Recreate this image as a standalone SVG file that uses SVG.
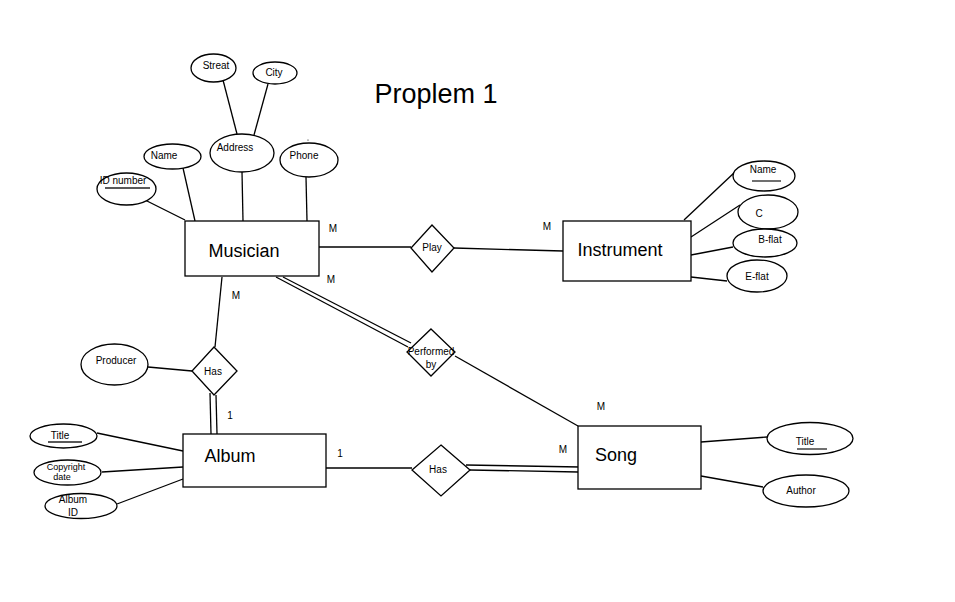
<svg xmlns="http://www.w3.org/2000/svg" width="955" height="602" viewBox="0 0 955 602">
<style>
.s{fill:#fff;stroke:#000;stroke-width:1.3}
.l{stroke:#000;stroke-width:1.3;fill:none}
.u{stroke:#222;stroke-width:1.3}
.t{font-family:"Liberation Sans",Arial,sans-serif;font-size:10px;fill:#000;text-anchor:middle}
.e{font-family:"Liberation Sans",Arial,sans-serif;font-size:18px;fill:#000;text-anchor:middle}
.sm{font-size:9px}
</style>
<rect width="955" height="602" fill="#fff"/>
<text x="436" y="103" font-family="'Liberation Sans',Arial,sans-serif" font-size="27" text-anchor="middle">Proplem 1</text>
<g id="connectors">
<line class="l" x1="223" y1="80" x2="237" y2="134"/>
<line class="l" x1="268" y1="84" x2="254" y2="135"/>
<line class="l" x1="143" y1="199" x2="185" y2="220"/>
<line class="l" x1="183" y1="168" x2="195" y2="221"/>
<line class="l" x1="242" y1="172" x2="243" y2="221"/>
<line class="l" x1="306" y1="177" x2="307" y2="221"/>
<line class="l" x1="319" y1="247" x2="411" y2="247"/>
<line class="l" x1="454" y1="248" x2="563" y2="251"/>
<line class="l" x1="684" y1="220" x2="735" y2="172"/>
<line class="l" x1="691" y1="237" x2="740" y2="205"/>
<line class="l" x1="691" y1="255" x2="733" y2="247"/>
<line class="l" x1="691" y1="277" x2="727" y2="281"/>
<line class="l" x1="222" y1="277" x2="215" y2="347"/>
<line class="l" x1="148" y1="367" x2="192" y2="371"/>
<line class="l" x1="210" y1="393" x2="211" y2="434"/>
<line class="l" x1="216" y1="395" x2="217" y2="434"/>
<line class="l" x1="97" y1="433" x2="183" y2="451"/>
<line class="l" x1="102" y1="472" x2="183" y2="467"/>
<line class="l" x1="117" y1="504" x2="183" y2="479"/>
<line class="l" x1="326" y1="468" x2="412" y2="468"/>
<line class="l" x1="466" y1="465" x2="580" y2="467"/>
<line class="l" x1="470" y1="470" x2="578" y2="472"/>
<line class="l" x1="276" y1="277" x2="408" y2="347"/>
<line class="l" x1="283" y1="277" x2="411" y2="343"/>
<line class="l" x1="455" y1="356" x2="578" y2="426"/>
<line class="l" x1="701" y1="442" x2="767" y2="437"/>
<line class="l" x1="701" y1="476" x2="763" y2="487"/>
</g>
<g id="musician"><rect class="s" x="185" y="221" width="134" height="55"/><text class="e" x="244" y="257">Musician</text></g>
<g id="instrument"><rect class="s" x="563" y="221" width="128" height="60"/><text class="e" x="620" y="256">Instrument</text></g>
<g id="album"><rect class="s" x="183" y="434" width="143" height="53"/><text class="e" x="230" y="462">Album</text></g>
<g id="song"><rect class="s" x="578" y="426" width="123" height="63"/><text class="e" x="616" y="461">Song</text></g>
<g id="play"><polygon class="s" points="432,225 454,248 432,272 411,248"/><text class="t" x="432" y="251">Play</text></g>
<g id="has-album"><polygon class="s" points="214,347 237,371 214,395 192,371"/><text class="t" x="213" y="375">Has</text></g>
<g id="has-song"><polygon class="s" points="441,445 470,470 441,496 412,470"/><text class="t" x="438" y="473">Has</text></g>
<g id="performed-by"><polygon class="s" points="431,329 455,352 431,376 407,352"/><text class="t" x="431" y="355">Performed</text><text class="t" x="431" y="368">by</text></g>
<g id="attr-streat"><ellipse class="s" cx="213.5" cy="68" rx="22.5" ry="14"/><text class="t" x="216" y="69">Streat</text></g>
<g id="attr-city"><ellipse class="s" cx="275" cy="73" rx="22" ry="11"/><text class="t" x="274" y="76">City</text></g>
<g id="attr-address"><ellipse class="s" cx="242" cy="153" rx="32" ry="19"/><text class="t" x="235" y="151">Address</text></g>
<g id="attr-name"><ellipse class="s" cx="172.5" cy="156.5" rx="28.5" ry="12.5"/><text class="t" x="164" y="159">Name</text></g>
<g id="attr-phone"><ellipse class="s" cx="309" cy="160" rx="29" ry="17"/><text class="t" x="304" y="159">Phone</text><circle cx="308" cy="140" r="0.6" fill="#000"/></g>
<g id="attr-idnumber"><ellipse class="s" cx="126.5" cy="189" rx="29.5" ry="16"/><text class="t" x="123" y="184">ID number</text><line class="u" x1="105" y1="188" x2="150" y2="188"/></g>
<g id="attr-producer"><ellipse class="s" cx="114.5" cy="364.5" rx="33.5" ry="20.5"/><text class="t" x="116" y="364">Producer</text></g>
<g id="attr-album-title"><ellipse class="s" cx="63.5" cy="436" rx="33.5" ry="12"/><text class="t" x="60" y="439">Title</text><line class="u" x1="48" y1="442" x2="82" y2="442"/></g>
<g id="attr-copyright"><ellipse class="s" cx="67.5" cy="472.5" rx="33.5" ry="12.5"/><text class="t sm" x="66" y="470">Copyright</text><text class="t sm" x="62" y="480">date</text></g>
<g id="attr-albumid"><ellipse class="s" cx="81" cy="506" rx="36" ry="12.5"/><text class="t" x="73" y="503">Album</text><text class="t" x="73" y="516">ID</text></g>
<g id="attr-inst-name"><ellipse class="s" cx="764" cy="176" rx="31" ry="15"/><text class="t" x="763" y="173">Name</text><line class="u" x1="752" y1="181" x2="781" y2="181"/></g>
<g id="attr-c"><ellipse class="s" cx="768" cy="212" rx="30" ry="17"/><text class="t" x="759" y="217">C</text></g>
<g id="attr-bflat"><ellipse class="s" cx="765" cy="243" rx="32" ry="14"/><text class="t" x="770" y="243">B-flat</text></g>
<g id="attr-eflat"><ellipse class="s" cx="757" cy="276" rx="30" ry="16"/><text class="t" x="757" y="280">E-flat</text></g>
<g id="attr-song-title"><ellipse class="s" cx="810" cy="438.5" rx="43" ry="16"/><text class="t" x="805" y="445">Title</text><line class="u" x1="797" y1="449" x2="827" y2="449"/></g>
<g id="attr-author"><ellipse class="s" cx="806" cy="491" rx="43" ry="16"/><text class="t" x="801" y="494">Author</text></g>
<g id="labels">
<text class="t" x="333" y="232">M</text>
<text class="t" x="331" y="283">M</text>
<text class="t" x="236" y="299">M</text>
<text class="t" x="547" y="230">M</text>
<text class="t" x="230" y="419">1</text>
<text class="t" x="340" y="457">1</text>
<text class="t" x="601" y="410">M</text>
<text class="t" x="563" y="453">M</text>
</g>
</svg>
